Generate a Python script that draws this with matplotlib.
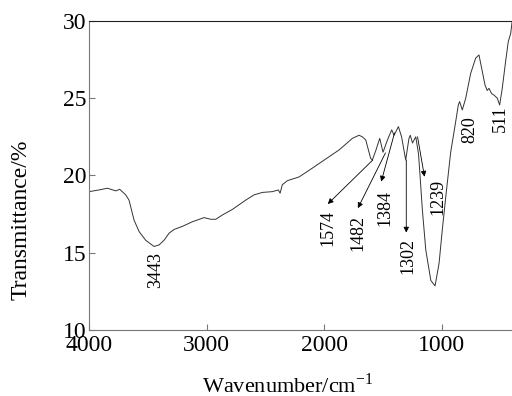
import numpy as np
from matplotlib import pyplot as plt

# FT-IR spectrum
wavenumber = [4000, 3915, 3844, 3773, 3739, 3688, 3660, 3617, 3574, 3518,
              3447, 3404, 3362, 3319, 3277, 3206, 3121, 3021, 2964, 2922,
              2865, 2780, 2667, 2596, 2525, 2440, 2389, 2374, 2355, 2312,
              2255, 2213, 2100, 1872, 1759, 1702, 1674, 1645, 1603, 1589,
              1560, 1526, 1498, 1460, 1424, 1404, 1367, 1340, 1305, 1277,
              1266, 1247, 1219, 1196, 1182, 1163, 1134, 1091, 1055, 1021,
              993, 964, 922, 879, 857, 846, 823, 794, 752, 709,
              681, 652, 630, 611, 596, 574, 553, 525, 505, 483,
              454, 432, 411, 400]
transmittance = [18.95, 19.06, 19.17, 19.0, 19.1, 18.74, 18.4, 17.1, 16.36, 15.8,
                 15.4, 15.5, 15.8, 16.26, 16.5, 16.7, 17.0, 17.27, 17.16, 17.16,
                 17.44, 17.8, 18.4, 18.74, 18.9, 18.95, 19.06, 18.85, 19.4, 19.66,
                 19.8, 19.9, 20.47, 21.65, 22.4, 22.6, 22.5, 22.3, 21.1, 21.0,
                 21.6, 22.4, 21.5, 22.3, 22.95, 22.6, 23.16, 22.5, 21.0, 22.4,
                 22.6, 22.1, 22.5, 21.4, 19.9, 17.77, 15.18, 13.2, 12.85, 14.3,
                 16.5, 18.6, 21.5, 23.5, 24.56, 24.78, 24.24, 25.0, 26.6, 27.6,
                 27.8, 26.7, 25.86, 25.5, 25.64, 25.3, 25.2, 25.0, 24.56, 25.64,
                 27.4, 28.66, 29.2, 29.9]

# peak labels
peak_labels = ['3443', '1574', '1482', '1384', '1302', '1239', '820', '511']
label_pos = [(3434, 13.9), (1970, 16.6), (1715, 16.3), (1485, 17.9),
             (1289, 14.8), (1034, 18.6), (762, 22.95), (500, 23.7)]
# arrows: (start on curve, tip near label), None if no arrow
arrows = [None,
          ((1585, 21.0), (1968, 18.15)),
          ((1477, 21.46), (1712, 17.88)),
          ((1400, 22.75), (1513, 19.6)),
          ((1300, 21.0), (1300, 16.3)),
          ((1204, 22.5), (1145, 19.92)),
          None, None]

plt.rcParams['font.family'] = ['Liberation Serif', 'DejaVu Serif']
plt.rcParams['mathtext.fontset'] = 'stix'

fig = plt.figure(figsize=(5.12, 3.96), dpi=100)
ax = fig.add_axes([0.174, 0.167, 0.826, 0.78])
ax.plot(wavenumber, transmittance, color='#333333', lw=0.7)

for lab, pos, arr in zip(peak_labels, label_pos, arrows):
    ax.text(pos[0], pos[1], lab, rotation=90, ha='center', va='center', fontsize=13)
    if arr is not None:
        ax.annotate('', xy=arr[1], xytext=arr[0],
                    arrowprops=dict(arrowstyle='-|>', color='black', lw=0.6,
                                    mutation_scale=8, shrinkA=0, shrinkB=0))

ax.set_xlim(4000, 400)
ax.set_ylim(10, 30)
ax.set_xticks([4000, 3000, 2000, 1000])
ax.set_yticks([10, 15, 20, 25, 30])
ax.tick_params(direction='in', length=4, labelsize=17, color='#777777')
ax.tick_params(axis='y', pad=2)
ax.tick_params(axis='x', pad=4)
ax.set_xlabel('Wavenumber/cm$^{\\mathregular{-1}}$', fontsize=16)
ax.set_ylabel('Transmittance/%', fontsize=17)
ax.xaxis.set_label_coords(0.47, -0.14)
ax.yaxis.set_label_coords(-0.136, 0.356)
for s in ['left', 'bottom']:
    ax.spines[s].set_color('#777777')
ax.spines['top'].set_color('#222222')
ax.spines['right'].set_visible(False)

plt.savefig('out.png', dpi=100)
